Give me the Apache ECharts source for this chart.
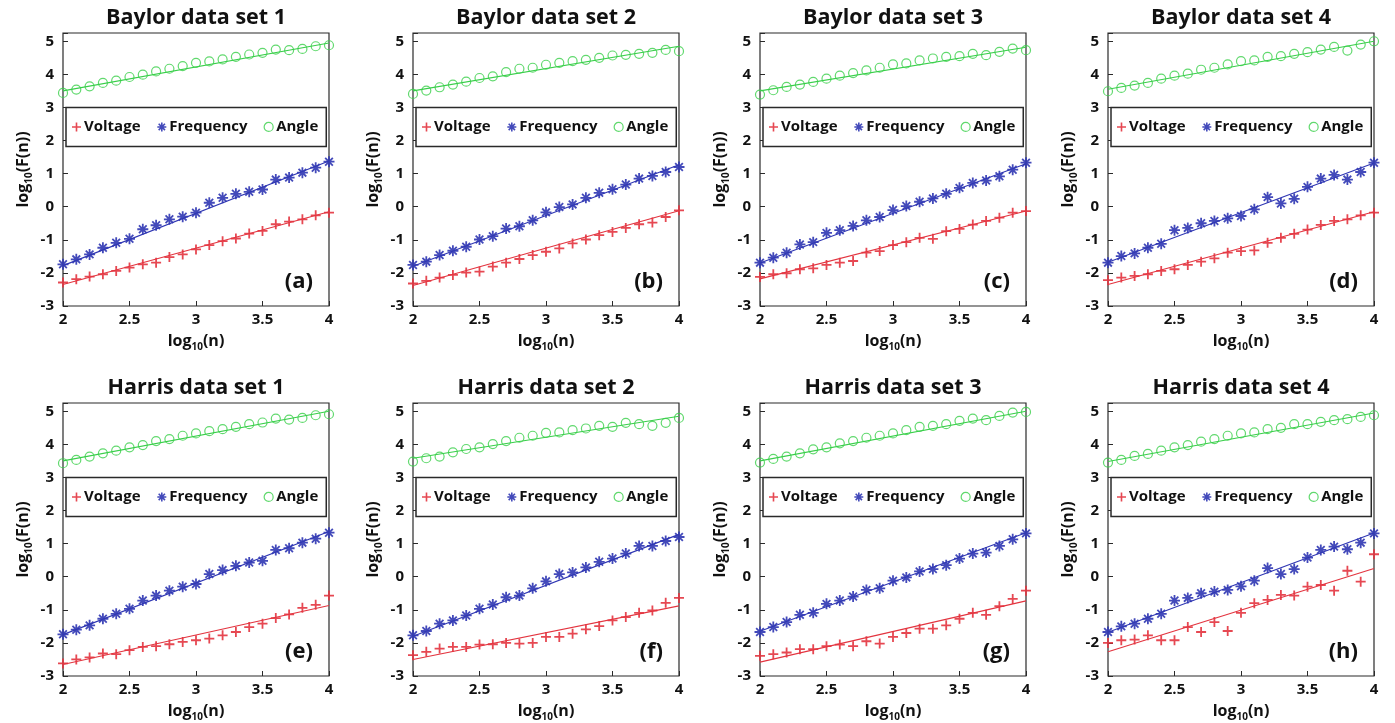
<!DOCTYPE html>
<html>
<head>
<meta charset="utf-8">
<script src="https://cdn.jsdelivr.net/npm/echarts@6/dist/echarts.min.js"></script>
<style>
html, body { margin: 0; padding: 0; background: #fff; }
#chart { width: 1395px; height: 723px; }
</style>
</head>
<body>
<div id="chart"></div>
<script>
// log10(n)
var xVals = [2.0, 2.1, 2.2, 2.3, 2.4, 2.5, 2.6, 2.7, 2.8, 2.9, 3.0, 3.1, 3.2, 3.3, 3.4, 3.5, 3.6, 3.7, 3.8, 3.9, 4.0];
var xTicks = ['2', '2.5', '3', '3.5', '4'];
var yTicks = ['-3', '-2', '-1', '0', '1', '2', '3', '4', '5'];

// Baylor data set 1 (a)
var baylor1Voltage = [-2.29, -2.19, -2.11, -2.04, -1.94, -1.84, -1.74, -1.69, -1.52, -1.44, -1.29, -1.16, -1.04, -0.96, -0.81, -0.73, -0.53, -0.45, -0.38, -0.26, -0.18];
var baylor1Frequency = [-1.74, -1.59, -1.44, -1.24, -1.09, -0.97, -0.68, -0.56, -0.38, -0.30, -0.18, 0.12, 0.27, 0.39, 0.45, 0.52, 0.82, 0.88, 1.03, 1.18, 1.36];
var baylor1Angle = [3.44, 3.54, 3.64, 3.74, 3.81, 3.92, 3.99, 4.09, 4.17, 4.25, 4.35, 4.39, 4.45, 4.53, 4.60, 4.65, 4.75, 4.73, 4.77, 4.85, 4.88];
// Baylor data set 2 (b)
var baylor2Voltage = [-2.32, -2.24, -2.14, -2.06, -1.99, -1.96, -1.81, -1.69, -1.58, -1.46, -1.36, -1.26, -1.11, -0.99, -0.86, -0.76, -0.64, -0.53, -0.48, -0.31, -0.11];
var baylor2Frequency = [-1.76, -1.66, -1.46, -1.33, -1.21, -0.99, -0.89, -0.66, -0.59, -0.41, -0.17, -0.01, 0.07, 0.27, 0.42, 0.53, 0.67, 0.85, 0.93, 1.05, 1.20];
var baylor2Angle = [3.41, 3.51, 3.61, 3.69, 3.78, 3.89, 3.94, 4.07, 4.17, 4.20, 4.29, 4.35, 4.40, 4.44, 4.50, 4.57, 4.59, 4.62, 4.65, 4.74, 4.70];
// Baylor data set 3 (c)
var baylor3Voltage = [-2.12, -2.04, -2.01, -1.89, -1.86, -1.76, -1.69, -1.64, -1.39, -1.34, -1.16, -1.07, -0.94, -0.97, -0.74, -0.67, -0.54, -0.43, -0.33, -0.18, -0.13];
var baylor3Frequency = [-1.69, -1.54, -1.39, -1.14, -1.07, -0.79, -0.71, -0.58, -0.41, -0.31, -0.10, 0.02, 0.15, 0.25, 0.39, 0.57, 0.72, 0.79, 0.92, 1.12, 1.33];
var baylor3Angle = [3.39, 3.52, 3.62, 3.69, 3.77, 3.87, 3.96, 4.04, 4.12, 4.20, 4.30, 4.33, 4.42, 4.48, 4.53, 4.55, 4.62, 4.58, 4.68, 4.78, 4.73];
// Baylor data set 4 (d)
var baylor4Voltage = [-2.22, -2.14, -2.09, -2.04, -1.94, -1.89, -1.76, -1.66, -1.56, -1.39, -1.34, -1.32, -1.09, -0.94, -0.82, -0.69, -0.55, -0.43, -0.38, -0.26, -0.18];
var baylor4Frequency = [-1.69, -1.49, -1.41, -1.24, -1.12, -0.71, -0.64, -0.50, -0.43, -0.35, -0.28, -0.08, 0.29, 0.10, 0.24, 0.60, 0.85, 0.96, 0.82, 1.05, 1.33];
var baylor4Angle = [3.49, 3.59, 3.66, 3.74, 3.87, 3.96, 4.02, 4.14, 4.20, 4.30, 4.40, 4.42, 4.53, 4.55, 4.62, 4.67, 4.75, 4.83, 4.72, 4.90, 5.00];
// Harris data set 1 (e)
var harris1Voltage = [-2.62, -2.50, -2.44, -2.32, -2.34, -2.22, -2.12, -2.10, -2.04, -1.97, -1.92, -1.87, -1.77, -1.67, -1.52, -1.42, -1.25, -1.14, -0.94, -0.85, -0.57];
var harris1Frequency = [-1.74, -1.60, -1.47, -1.27, -1.12, -0.97, -0.72, -0.57, -0.42, -0.30, -0.22, 0.08, 0.20, 0.33, 0.43, 0.48, 0.81, 0.86, 1.03, 1.15, 1.33];
var harris1Angle = [3.43, 3.53, 3.63, 3.73, 3.81, 3.91, 3.98, 4.10, 4.16, 4.26, 4.33, 4.40, 4.46, 4.53, 4.61, 4.66, 4.78, 4.75, 4.80, 4.88, 4.91];
// Harris data set 2 (f)
var harris2Voltage = [-2.37, -2.27, -2.17, -2.12, -2.12, -2.05, -2.04, -2.00, -2.02, -2.00, -1.82, -1.82, -1.72, -1.59, -1.49, -1.32, -1.22, -1.09, -1.02, -0.79, -0.64];
var harris2Frequency = [-1.77, -1.64, -1.42, -1.32, -1.17, -0.97, -0.84, -0.62, -0.57, -0.35, -0.14, 0.08, 0.13, 0.28, 0.45, 0.55, 0.70, 0.93, 0.93, 1.08, 1.20];
var harris2Angle = [3.48, 3.58, 3.63, 3.76, 3.86, 3.91, 4.01, 4.10, 4.20, 4.26, 4.35, 4.36, 4.43, 4.48, 4.56, 4.53, 4.65, 4.61, 4.56, 4.65, 4.80];
// Harris data set 3 (g)
var harris3Voltage = [-2.39, -2.34, -2.29, -2.19, -2.19, -2.10, -2.05, -2.10, -1.95, -2.02, -1.82, -1.70, -1.57, -1.57, -1.47, -1.27, -1.09, -1.15, -0.89, -0.67, -0.42];
var harris3Frequency = [-1.67, -1.52, -1.37, -1.15, -1.09, -0.82, -0.72, -0.60, -0.40, -0.35, -0.12, -0.02, 0.16, 0.23, 0.35, 0.55, 0.70, 0.73, 0.93, 1.13, 1.31];
var harris3Angle = [3.45, 3.56, 3.63, 3.73, 3.85, 3.91, 4.03, 4.10, 4.20, 4.26, 4.33, 4.43, 4.53, 4.56, 4.61, 4.71, 4.78, 4.73, 4.86, 4.96, 4.98];
// Harris data set 4 (h)
var harris4Voltage = [-2.00, -1.92, -1.90, -1.77, -1.92, -1.92, -1.52, -1.67, -1.37, -1.64, -1.09, -0.80, -0.70, -0.55, -0.57, -0.30, -0.25, -0.42, 0.18, -0.15, 0.68];
var harris4Frequency = [-1.67, -1.50, -1.42, -1.27, -1.12, -0.72, -0.64, -0.50, -0.45, -0.40, -0.29, -0.12, 0.26, 0.08, 0.23, 0.58, 0.81, 0.91, 0.83, 1.03, 1.31];
var harris4Angle = [3.45, 3.53, 3.65, 3.71, 3.81, 3.91, 3.98, 4.08, 4.16, 4.26, 4.33, 4.36, 4.46, 4.50, 4.61, 4.61, 4.68, 4.73, 4.76, 4.83, 4.88];

// fitted lines, value at log10(n)=2 and at 4: [voltage, frequency, angle]
var baylor1Fit = [[-2.35, -0.15], [-1.78, 1.38], [3.50, 4.95]];
var baylor2Fit = [[-2.38, -0.12], [-1.80, 1.27], [3.50, 4.85]];
var baylor3Fit = [[-2.18, -0.13], [-1.70, 1.30], [3.50, 4.82]];
var baylor4Fit = [[-2.35, -0.15], [-1.68, 1.32], [3.55, 5.00]];
var harris1Fit = [[-2.65, -0.87], [-1.75, 1.37], [3.50, 5.00]];
var harris2Fit = [[-2.50, -0.88], [-1.80, 1.28], [3.58, 4.85]];
var harris3Fit = [[-2.58, -0.73], [-1.65, 1.33], [3.50, 5.00]];
var harris4Fit = [[-2.27, 0.25], [-1.68, 1.32], [3.48, 4.95]];

var panels = [
    {title: 'Baylor data set 1', letter: '(a)', v: baylor1Voltage, f: baylor1Frequency, a: baylor1Angle, fit: baylor1Fit},
    {title: 'Baylor data set 2', letter: '(b)', v: baylor2Voltage, f: baylor2Frequency, a: baylor2Angle, fit: baylor2Fit},
    {title: 'Baylor data set 3', letter: '(c)', v: baylor3Voltage, f: baylor3Frequency, a: baylor3Angle, fit: baylor3Fit},
    {title: 'Baylor data set 4', letter: '(d)', v: baylor4Voltage, f: baylor4Frequency, a: baylor4Angle, fit: baylor4Fit},
    {title: 'Harris data set 1', letter: '(e)', v: harris1Voltage, f: harris1Frequency, a: harris1Angle, fit: harris1Fit},
    {title: 'Harris data set 2', letter: '(f)', v: harris2Voltage, f: harris2Frequency, a: harris2Angle, fit: harris2Fit},
    {title: 'Harris data set 3', letter: '(g)', v: harris3Voltage, f: harris3Frequency, a: harris3Angle, fit: harris3Fit},
    {title: 'Harris data set 4', letter: '(h)', v: harris4Voltage, f: harris4Frequency, a: harris4Angle, fit: harris4Fit}
];

var FONT = '"Open Sans", Lato, sans-serif';
var RED = '#e3343f';
var BLUE = '#2f36b3';
var GREEN = '#39cf4a';
var PLUS = 'path://M4.1,0H5.9V4.1H10V5.9H5.9V10H4.1V5.9H0V4.1H4.1Z';
var STAR = 'path://M5,0L5,10M0,5L10,5M1.5,1.5L8.5,8.5M8.5,1.5L1.5,8.5';

// layout of the 2x4 panels (px)
var colLeft = [63, 413, 760, 1108];
var rowTop = [33, 403];
var gw = 266, gh = 273;
var yMin = -3, yMax = 5.25;

var chart = echarts.init(document.getElementById('chart'));

function pairs(ys) {
    return xVals.map(function (x, i) { return [x, ys[i]]; });
}

var grids = [], xAxes = [], yAxes = [], series = [], legends = [], graphics = [];

var nameRich = {
    b: {fontFamily: FONT, fontWeight: 'bold', fontSize: 16, color: '#111', lineHeight: 22},
    s: {fontFamily: FONT, fontWeight: 'bold', fontSize: 10, color: '#111', lineHeight: 12, verticalAlign: 'bottom'}
};

panels.forEach(function (p, i) {
    var gx = colLeft[i % 4];
    var gy = rowTop[Math.floor(i / 4)];
    grids.push({
        left: gx, top: gy, width: gw, height: gh,
        show: true, borderColor: '#2a2a2a', borderWidth: 1.2, backgroundColor: '#fff',
        outerBoundsMode: 'none'
    });
    xAxes.push({
        gridIndex: i, type: 'value', min: 2, max: 4, interval: 0.5,
        name: '{b|log}{s|10}{b|(n)}', nameLocation: 'middle', nameGap: 24,
        nameTextStyle: {rich: nameRich},
        axisLine: {show: false, onZero: false},
        axisTick: {inside: true, length: 5, lineStyle: {color: '#2a2a2a'}},
        splitLine: {show: false},
        axisLabel: {
            margin: 6, color: '#111', fontFamily: FONT, fontWeight: 'bold', fontSize: 15,
            formatter: function (v) { var s = String(+v.toFixed(1)); return xTicks.indexOf(s) >= 0 ? s : ''; }
        }
    });
    yAxes.push({
        gridIndex: i, type: 'value', min: yMin, max: yMax, interval: 1,
        name: '{b|log}{s|10}{b|(F(n))}', nameLocation: 'middle', nameGap: 29, nameRotate: 90,
        nameTextStyle: {rich: nameRich},
        axisLine: {show: false, onZero: false},
        axisTick: {inside: true, length: 5, lineStyle: {color: '#2a2a2a'}},
        splitLine: {show: false},
        axisLabel: {
            margin: 9, color: '#111', fontFamily: FONT, fontWeight: 'bold', fontSize: 15,
            formatter: function (v) { var s = String(v); return yTicks.indexOf(s) >= 0 ? s : ''; }
        }
    });

    var fitColors = [RED, BLUE, GREEN];
    p.fit.forEach(function (ends, k) {
        series.push({
            name: 'fit' + k, type: 'line', xAxisIndex: i, yAxisIndex: i,
            data: [[2, ends[0]], [4, ends[1]]],
            showSymbol: false, silent: true, z: 1,
            lineStyle: {color: fitColors[k], width: 1.1}
        });
    });
    series.push({
        name: 'Voltage', type: 'scatter', xAxisIndex: i, yAxisIndex: i,
        data: pairs(p.v), symbol: PLUS, symbolSize: 10, z: 3,
        itemStyle: {color: RED, opacity: 0.9}
    });
    series.push({
        name: 'Frequency', type: 'scatter', xAxisIndex: i, yAxisIndex: i,
        data: pairs(p.f), symbol: STAR, symbolSize: 11, z: 3,
        itemStyle: {color: 'rgba(0,0,0,0)', borderColor: BLUE, borderWidth: 1.8, opacity: 0.9}
    });
    series.push({
        name: 'Angle', type: 'scatter', xAxisIndex: i, yAxisIndex: i,
        data: pairs(p.a), symbol: 'circle', symbolSize: 9, z: 3,
        itemStyle: {color: 'rgba(255,255,255,0)', borderColor: GREEN, borderWidth: 1.2}
    });

    var unit = gh / (yMax - yMin);
    legends.push({
        left: gx + 3, top: gy + (yMax - 3) * unit,
        orient: 'horizontal', selectedMode: false,
        backgroundColor: '#fff', borderColor: '#2a2a2a', borderWidth: 1.5, borderRadius: 0,
        padding: [12, 8, 12, 6], itemGap: 16, itemWidth: 9, itemHeight: 9,
        textStyle: {fontFamily: FONT, fontWeight: 'bold', fontSize: 15, color: '#111', padding: [0, 0, 0, -2]},
        data: [
            {name: 'Voltage', icon: PLUS, itemStyle: {color: RED, borderWidth: 0}},
            {name: 'Frequency', icon: STAR, itemStyle: {color: 'rgba(0,0,0,0)', borderColor: BLUE, borderWidth: 1.6}},
            {name: 'Angle', icon: 'circle', itemStyle: {color: '#fff', borderColor: GREEN, borderWidth: 1.2}}
        ]
    });

    graphics.push({
        type: 'text', x: gx + gw / 2, y: gy - 15, z: 10,
        style: {text: p.title, font: 'bold 21.5px ' + FONT, fill: '#111', align: 'center', verticalAlign: 'middle'}
    });
    graphics.push({
        type: 'text', x: gx + gw - 16, y: gy + gh - 24, z: 10,
        style: {text: p.letter, font: 'bold 22px ' + FONT, fill: '#111', align: 'right', verticalAlign: 'middle'}
    });
});

chart.setOption({
    animation: false,
    backgroundColor: '#fff',
    grid: grids,
    xAxis: xAxes,
    yAxis: yAxes,
    legend: legends,
    graphic: graphics,
    series: series
});
</script>
</body>
</html>
